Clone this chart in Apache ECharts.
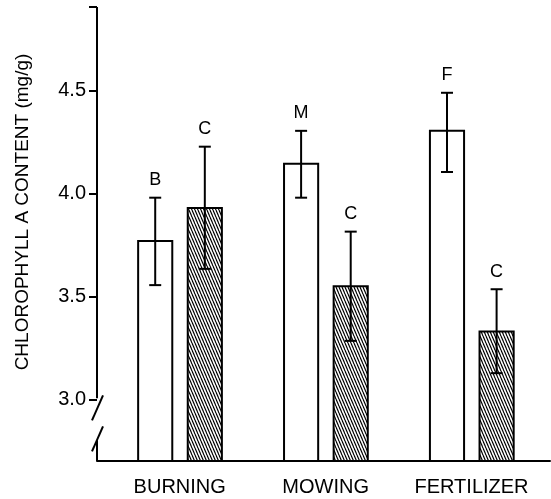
<!DOCTYPE html>
<html>
<head>
<meta charset="utf-8">
<script src="https://cdn.jsdelivr.net/npm/echarts@6/dist/echarts.min.js"></script>
<style>
html,body{margin:0;padding:0;background:#fff;}
#chart{width:551px;height:499px;}
</style>
</head>
<body>
<div id="chart"></div>
<script>
// ---- data ----
const categories = ['BURNING', 'MOWING', 'FERTILIZER'];
const openValues = [3.77, 4.145, 4.305];
const openLow = [3.555, 3.98, 4.105];
const openHigh = [3.98, 4.305, 4.49];
const openLetters = ['B', 'M', 'F'];
const hatchValues = [3.93, 3.55, 3.33];
const hatchLow = [3.634, 3.284, 3.127];
const hatchHigh = [4.228, 3.815, 3.535];
const hatchLetters = ['C', 'C', 'C'];
const yTickLabels = [3.0, 3.5, 4.0, 4.5];

const yMin = 2.70, yMax = 4.907;
const xMin = -0.567, xMax = 2.538;
const FONT = '"Liberation Sans", Arial, Helvetica, sans-serif';

// hatch pattern
function makeHatch() {
  const w = 3, h = 7;
  const c = document.createElement('canvas');
  c.width = w; c.height = h;
  const ctx = c.getContext('2d');
  ctx.fillStyle = '#fff';
  ctx.fillRect(0, 0, w, h);
  ctx.strokeStyle = '#000';
  ctx.lineWidth = 1.2;
  for (let k = -1; k <= 1; k++) {
    ctx.beginPath();
    ctx.moveTo(k * w, 0);
    ctx.lineTo(k * w + w, h);
    ctx.stroke();
  }
  return c;
}
const hatchFill = { image: makeHatch(), repeat: 'repeat' };

const barOffset = { open: -0.168, hatch: 0.172 };
const barWidthFrac = 0.234;

function barRender(kind, fill) {
  return function (params, api) {
    const i = api.value(0), v = api.value(1);
    const top = api.coord([i, v]);
    const base = api.coord([i, yMin]);
    const band = api.size([1, 0])[0];
    const cx = top[0] + barOffset[kind] * band;
    const w = barWidthFrac * band;
    return {
      type: 'rect',
      shape: { x: cx - w / 2, y: top[1], width: w, height: base[1] - top[1] },
      style: { fill: fill, stroke: '#000', lineWidth: 2 }
    };
  };
}

function errRender(kind, letters) {
  return function (params, api) {
    const i = api.value(0);
    const lo = api.coord([i, api.value(1)]);
    const hi = api.coord([i, api.value(2)]);
    const band = api.size([1, 0])[0];
    const cx = lo[0] + barOffset[kind] * band;
    const cap = 6;
    const st = { stroke: '#000', lineWidth: 2 };
    return {
      type: 'group',
      children: [
        { type: 'line', shape: { x1: cx, y1: lo[1], x2: cx, y2: hi[1] }, style: st },
        { type: 'line', shape: { x1: cx - cap, y1: lo[1], x2: cx + cap, y2: lo[1] }, style: st },
        { type: 'line', shape: { x1: cx - cap, y1: hi[1], x2: cx + cap, y2: hi[1] }, style: st },
        { type: 'text', x: cx, y: hi[1] - 17.5,
          style: { text: letters[params.dataIndex], fill: '#000', font: '18px ' + FONT,
                   align: 'center', verticalAlign: 'middle' } }
      ]
    };
  };
}

function axisDecoRender(params, api) {
  const x0 = api.coord([xMin, yMin])[0];
  const yBot = api.coord([xMin, yMin])[1];
  const yTop = api.coord([xMin, yMax])[1];
  const y3 = api.coord([xMin, 3.0])[1];
  const st = { stroke: '#000', lineWidth: 2 };
  return {
    type: 'group',
    children: [
      { type: 'line', shape: { x1: x0, y1: yTop, x2: x0, y2: y3 - 1 }, style: st },
      { type: 'line', shape: { x1: x0 + 6, y1: y3 - 4, x2: x0 - 5, y2: y3 + 21 }, style: st },
      { type: 'line', shape: { x1: x0 + 6, y1: y3 + 27, x2: x0 - 5, y2: y3 + 52 }, style: st },
      { type: 'line', shape: { x1: x0, y1: y3 + 41, x2: x0, y2: yBot }, style: st }
    ]
  };
}

const chart = echarts.init(document.getElementById('chart'), null, { renderer: 'canvas' });
chart.setOption({
  backgroundColor: '#fff',
  animation: false,
  grid: { left: 97, right: 1, top: 7, bottom: 38, containLabel: false },
  xAxis: {
    type: 'value', min: xMin, max: xMax,
    splitLine: { show: false },
    axisTick: { show: false },
    axisLine: { show: true, onZero: false, lineStyle: { color: '#000', width: 2 } },
    axisLabel: {
      customValues: [0, 1, 2],
      formatter: v => categories[Math.round(v)],
      color: '#000', fontSize: 20, fontFamily: FONT, margin: 16
    }
  },
  yAxis: {
    type: 'value', min: yMin, max: yMax,
    splitLine: { show: false },
    axisLine: { show: false, onZero: false },
    axisTick: { show: true, customValues: yTickLabels.concat([yMax]), length: 8,
                lineStyle: { color: '#000', width: 2 } },
    axisLabel: { customValues: yTickLabels, formatter: v => v.toFixed(1),
                 color: '#000', fontSize: 20, fontFamily: FONT, margin: 11 }
  },
  graphic: [{
    type: 'text', x: 23, y: 212, rotation: Math.PI / 2,
    style: { text: 'CHLOROPHYLL A CONTENT (mg/g)', fill: '#000', font: '19px ' + FONT,
             align: 'center', verticalAlign: 'middle' }
  }],
  series: [
    { type: 'custom', name: 'open', renderItem: barRender('open', '#fff'),
      data: categories.map((c, i) => [i, openValues[i]]), z: 2 },
    { type: 'custom', name: 'hatched', renderItem: barRender('hatch', hatchFill),
      data: categories.map((c, i) => [i, hatchValues[i]]), z: 2 },
    { type: 'custom', name: 'openErr', renderItem: errRender('open', openLetters),
      data: categories.map((c, i) => [i, openLow[i], openHigh[i]]), z: 3 },
    { type: 'custom', name: 'hatchErr', renderItem: errRender('hatch', hatchLetters),
      data: categories.map((c, i) => [i, hatchLow[i], hatchHigh[i]]), z: 3 },
    { type: 'custom', name: 'axisDeco', renderItem: axisDecoRender,
      data: [[xMin, yMin]], z: 4, silent: true }
  ]
});
</script>
</body>
</html>
